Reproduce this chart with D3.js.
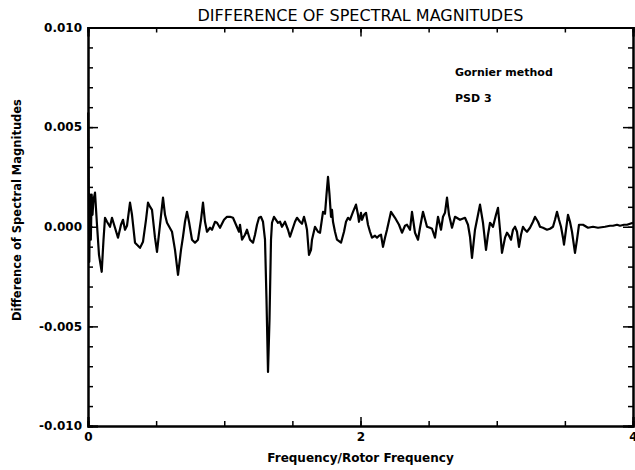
<!DOCTYPE html>
<meta charset="utf-8">
<style>
body { margin: 0; background: #fff; }
svg { font-family: "DejaVu Sans", sans-serif; }
.axis path, .axis line { stroke: #000; }
.axis text { font-family: "DejaVu Sans", sans-serif; font-size: 12px; font-weight: bold; fill: #000; }
</style>
<script src="https://cdn.jsdelivr.net/npm/d3@7"></script>
<svg width="635" height="470"></svg>
<script>
// frequency / rotor frequency
var freq = [0.0015, 0.0059, 0.0095, 0.0147, 0.0206, 0.0272, 0.033, 0.0404, 0.0514, 0.066,
  0.0807, 0.1006, 0.1138, 0.1248, 0.1394, 0.1615, 0.1761, 0.1982, 0.2202, 0.2422,
  0.2569, 0.2716, 0.2862, 0.3083, 0.3229, 0.345, 0.367, 0.3817, 0.4037, 0.4257,
  0.4404, 0.455, 0.4697, 0.4917, 0.5064, 0.5284, 0.5505, 0.5651, 0.5798, 0.6165,
  0.6385, 0.6606, 0.6826, 0.6972, 0.7119, 0.7266, 0.7413, 0.7633, 0.7853, 0.8073,
  0.8294, 0.844, 0.8587, 0.8734, 0.8954, 0.9101, 0.9321, 0.9468, 0.9688, 0.9982,
  1.0202, 1.0422, 1.0642, 1.0862, 1.1083, 1.1156, 1.1303, 1.1523, 1.167, 1.189,
  1.211, 1.2257, 1.2404, 1.255, 1.2697, 1.2844, 1.2991, 1.3101, 1.3211, 1.3321,
  1.3431, 1.3505, 1.3651, 1.3798, 1.3945, 1.4092, 1.4239, 1.4459, 1.4679, 1.4826,
  1.5046, 1.5193, 1.5339, 1.556, 1.5706, 1.5853, 1.6, 1.6073, 1.622, 1.6367,
  1.644, 1.6661, 1.6881, 1.7028, 1.7248, 1.7394, 1.7505, 1.7615, 1.7725, 1.7835,
  1.7908, 1.7982, 1.8128, 1.8275, 1.8569, 1.8789, 1.8936, 1.9083, 1.9229, 1.945,
  1.967, 1.9817, 1.989, 2.0037, 2.011, 2.0257, 2.0404, 2.055, 2.0697, 2.0844,
  2.1064, 2.1211, 2.1358, 2.1505, 2.1651, 2.1798, 2.1945, 2.2239, 2.2532, 2.2826,
  2.3046, 2.3266, 2.3413, 2.3633, 2.378, 2.4, 2.422, 2.4367, 2.4587, 2.4881,
  2.5101, 2.5248, 2.5468, 2.5688, 2.5908, 2.6055, 2.6202, 2.6349, 2.6495, 2.6716,
  2.6936, 2.7303, 2.767, 2.789, 2.8037, 2.8183, 2.8404, 2.8624, 2.8771, 2.8991,
  2.9211, 2.9358, 2.9505, 2.9725, 2.9945, 3.0092, 3.0239, 3.0385, 3.0606, 3.0752,
  3.0899, 3.1046, 3.1193, 3.1339, 3.1486, 3.1633, 3.178, 3.1927, 3.2073, 3.222,
  3.244, 3.2661, 3.2807, 3.3028, 3.3174, 3.3394, 3.3688, 3.3908, 3.4128, 3.4275,
  3.4422, 3.4569, 3.4716, 3.4862, 3.4936, 3.5083, 3.5229, 3.5376, 3.5523, 3.5743,
  3.589, 3.6037, 3.633, 3.6697, 3.7064, 3.7431, 3.7945, 3.8312, 3.8532, 3.8826,
  3.9046, 3.9339, 3.956, 3.978, 4.0];

// difference of spectral magnitudes (units of 1e-3)
var diff = [5.73, 1.36, -1.76, 1.61, -0.65, 1.61, 0.6, 1.36, 1.71, 0.1,
  -1.41, -2.26, -0.65, 0.45, 0.25, 0, 0.45, -0.05, -0.55, 0.1,
  0.35, -0.15, 0.05, 1.21, 0.6, -0.8, -0.95, -1.06, -0.75, 0.35,
  1.21, 1.01, 0.85, -0.55, -1.26, 0.1, 1.46, 0.6, 0.2, -0.25,
  -1.16, -2.41, -1.16, -0.5, 0.25, 0.75, 0.25, -0.65, -0.8, -0.65,
  0.35, 1.21, 0.25, -0.25, -0.05, -0.15, 0.25, 0.2, -0.05, 0.35,
  0.5, 0.5, 0.45, 0.1, -0.25, 0.1, -0.65, -0.4, -0.15, -0.65,
  -0.8, -0.4, 0.1, 0.45, 0.5, 0.25, -0.65, -3.67, -7.29, -4.67,
  -0.65, 0.2, 0.5, 0.35, 0.2, 0.25, 0, 0.25, -0.15, -0.5,
  -0.05, 0.25, 0.45, 0.25, 0.15, 0.5, 0.1, -0.15, -1.41, -1.16,
  -0.65, 0, -0.25, -0.3, 0.75, 0.65, 1.61, 2.51, 1.61, 0.5,
  0.85, 0.25, -0.25, -0.65, -0.8, -0.25, 0.25, 0.45, 0.35, 0.75,
  1.11, 0.6, 0.25, 0.7, 0.35, 0.6, 0.7, 0.1, -0.25, -0.55,
  -0.45, -0.55, -0.45, -0.4, -1.01, -0.55, -0.15, 0.75, 0.45, 0.1,
  -0.3, 0.05, 0.1, -0.15, 0.75, -0.3, -0.65, -0.05, 0.75, 0,
  -0.05, -0.1, -0.55, 0.5, -0.15, 0.5, 0.7, 1.46, 0.6, -0.05,
  0.5, 0.35, 0.45, 0.1, -0.5, -1.56, -0.15, 0.6, 1.11, 0.2,
  -1.16, -0.4, 0.2, 0, 0.6, 0.95, -0.15, -1.31, -0.55, -0.3,
  -0.45, -0.65, -0.15, 0, -0.25, -1.01, -0.4, 0, -0.15, -0.25,
  -0.05, 0.25, 0.5, 0.25, 0, -0.05, -0.15, -0.1, 0, 0.35,
  0.75, 0.35, 0, -0.55, -0.9, -0.15, 0.6, 0.25, -0.25, -1.31,
  -0.65, 0.1, 0.1, -0.05, 0, -0.05, 0, 0.05, 0.05, 0.1,
  0.05, 0.1, 0.1, 0.15, 0.2];

var yMajor = [-0.010, -0.005, 0.000, 0.005, 0.010];
var xMajor = [0, 2, 4];

var svg = d3.select("svg"),
    margin = {top: 27.5, right: 2, bottom: 44, left: 88},
    width = +svg.attr("width") - margin.left - margin.right,
    height = +svg.attr("height") - margin.top - margin.bottom;

var x = d3.scaleLinear().domain([0, 4]).range([0, width]),
    y = d3.scaleLinear().domain([-0.01, 0.01]).range([height, 0]);

var g = svg.append("g").attr("transform", "translate(" + margin.left + "," + margin.top + ")");

var xMinor = d3.range(0, 4.01, 0.5),
    yMinor = d3.range(-10, 10.5, 1).map(function(d) { return d / 1000; });

// bottom
g.append("g").attr("class", "axis")
    .attr("transform", "translate(0," + height + ")")
    .call(d3.axisBottom(x).tickValues(xMinor).tickSize(-5).tickFormat(""));
g.append("g").attr("class", "axis")
    .attr("transform", "translate(0," + height + ")")
    .call(d3.axisBottom(x).tickValues(xMajor).tickSize(-9).tickPadding(6).tickFormat(d3.format("d")));
// top
g.append("g").attr("class", "axis")
    .call(d3.axisTop(x).tickValues(xMinor).tickSize(-5).tickFormat(""));
g.append("g").attr("class", "axis")
    .call(d3.axisTop(x).tickValues(xMajor).tickSize(-9).tickFormat(""));
// left
g.append("g").attr("class", "axis")
    .call(d3.axisLeft(y).tickValues(yMinor).tickSize(-5).tickFormat(""));
g.append("g").attr("class", "axis")
    .call(d3.axisLeft(y).tickValues(yMajor).tickSize(-10).tickPadding(6).tickFormat(d3.format(".3f")));
// right
g.append("g").attr("class", "axis")
    .attr("transform", "translate(" + width + ",0)")
    .call(d3.axisRight(y).tickValues(yMinor).tickSize(-5).tickFormat(""));
g.append("g").attr("class", "axis")
    .attr("transform", "translate(" + width + ",0)")
    .call(d3.axisRight(y).tickValues(yMajor).tickSize(-10).tickFormat(""));

g.selectAll(".axis .domain").attr("stroke-width", 2);
g.selectAll(".axis line").attr("stroke-width", 1.5);
g.selectAll(".axis text").text(function() { return this.textContent.replace("\u2212", "-"); });

var line = d3.line()
    .x(function(d, i) { return x(freq[i]); })
    .y(function(d) { return y(d / 1000); });

g.append("path")
    .datum(diff)
    .attr("fill", "none")
    .attr("stroke", "#000")
    .attr("stroke-width", 2.2)
    .attr("stroke-linejoin", "round")
    .attr("d", line);

// labels
svg.append("text")
    .attr("x", margin.left + width / 2).attr("y", 21)
    .attr("text-anchor", "middle")
    .style("font-size", "16px")
    .text("DIFFERENCE OF SPECTRAL MAGNITUDES");

svg.append("text")
    .attr("x", margin.left + width / 2).attr("y", 462)
    .attr("text-anchor", "middle")
    .style("font-size", "12px").style("font-weight", "bold")
    .text("Frequency/Rotor Frequency");

svg.append("text")
    .attr("transform", "translate(21,210) rotate(-90)")
    .attr("text-anchor", "middle")
    .style("font-size", "11.5px").style("font-weight", "bold")
    .text("Difference of Spectral Magnitudes");

svg.append("text")
    .attr("x", 455).attr("y", 76)
    .style("font-size", "11px").style("font-weight", "bold")
    .text("Gornier method");

svg.append("text")
    .attr("x", 455).attr("y", 102)
    .style("font-size", "11px").style("font-weight", "bold")
    .text("PSD 3");
</script>
